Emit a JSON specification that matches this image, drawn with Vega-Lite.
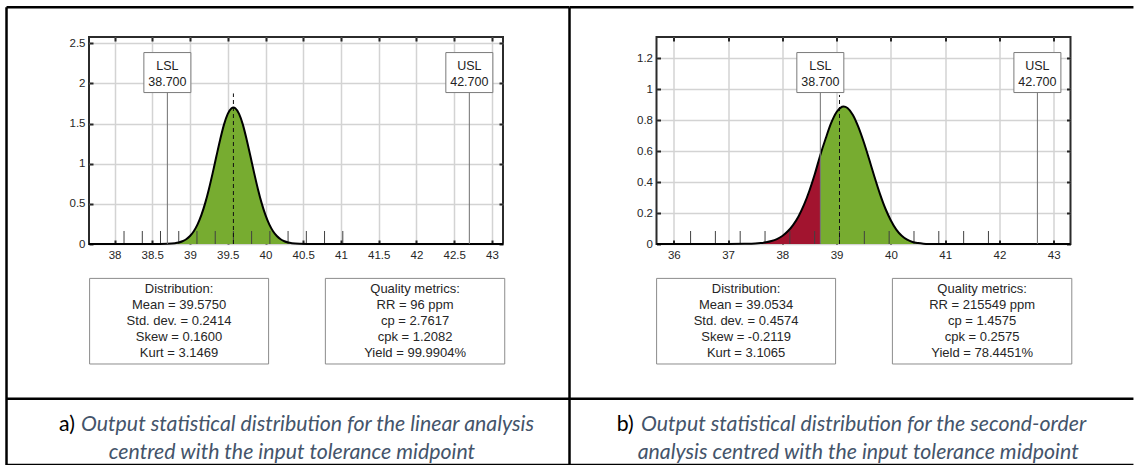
{
  "$schema": "https://vega.github.io/schema/vega-lite/v6.json",
  "padding": {"left": 4, "top": 4, "right": 0, "bottom": 0},
  "background": "white",
  "bounds": "flush",
  "spacing": 153.5,
  "config": {
    "view": {"stroke": "#2b2b2b", "strokeWidth": 2},
    "font": "Liberation Sans",
    "axis": {"domain": false, "tickSize": -4, "tickWidth": 2, "tickColor": "#262626", "gridColor": "#d3d3d3", "gridWidth": 1.5, "labelFont": "Liberation Sans", "labelFontSize": 11.5, "labelColor": "#262626", "labelFlush": false, "labelOverlap": false},
    "axisBottom": {"labelPadding": 9},
    "axisLeft": {"labelPadding": 8}
  },
  "datasets": {
    "curveA": [
      {"x": 37.662, "y": 0, "zone": "out"}, {"x": 38.0, "y": 0, "zone": "out"}, {"x": 38.3, "y": 0.00002, "zone": "out"}, {"x": 38.5, "y": 0.0001, "zone": "out"}, {"x": 38.6, "y": 0.0005, "zone": "out"}, {"x": 38.7, "y": 0.0024, "zone": "out"},
      {"x": 38.7, "y": 0.0024, "zone": "in"}, {"x": 38.8, "y": 0.0098, "zone": "in"}, {"x": 38.85, "y": 0.0186, "zone": "in"}, {"x": 38.9, "y": 0.0339, "zone": "in"}, {"x": 38.95, "y": 0.0592, "zone": "in"}, {"x": 39.0, "y": 0.0991, "zone": "in"}, {"x": 39.05, "y": 0.1587, "zone": "in"}, {"x": 39.1, "y": 0.2438, "zone": "in"}, {"x": 39.15, "y": 0.3586, "zone": "in"}, {"x": 39.2, "y": 0.506, "zone": "in"}, {"x": 39.25, "y": 0.683, "zone": "in"}, {"x": 39.3, "y": 0.883, "zone": "in"}, {"x": 39.35, "y": 1.095, "zone": "in"}, {"x": 39.4, "y": 1.302, "zone": "in"}, {"x": 39.45, "y": 1.487, "zone": "in"}, {"x": 39.5, "y": 1.62, "zone": "in"}, {"x": 39.55, "y": 1.691, "zone": "in"}, {"x": 39.575, "y": 1.7, "zone": "in"}, {"x": 39.6, "y": 1.691, "zone": "in"}, {"x": 39.65, "y": 1.62, "zone": "in"}, {"x": 39.7, "y": 1.487, "zone": "in"}, {"x": 39.75, "y": 1.302, "zone": "in"}, {"x": 39.8, "y": 1.095, "zone": "in"}, {"x": 39.85, "y": 0.883, "zone": "in"}, {"x": 39.9, "y": 0.683, "zone": "in"}, {"x": 39.95, "y": 0.506, "zone": "in"}, {"x": 40.0, "y": 0.3586, "zone": "in"}, {"x": 40.05, "y": 0.2438, "zone": "in"}, {"x": 40.1, "y": 0.1587, "zone": "in"}, {"x": 40.15, "y": 0.0991, "zone": "in"}, {"x": 40.2, "y": 0.0592, "zone": "in"}, {"x": 40.25, "y": 0.0339, "zone": "in"}, {"x": 40.3, "y": 0.0186, "zone": "in"}, {"x": 40.35, "y": 0.0098, "zone": "in"}, {"x": 40.45, "y": 0.0024, "zone": "in"}, {"x": 40.55, "y": 0.0005, "zone": "in"}, {"x": 40.7, "y": 0, "zone": "in"}, {"x": 43.146, "y": 0, "zone": "in"}
    ],
    "curveB": [
      {"x": 35.681, "y": 0, "zone": "out"}, {"x": 37.0, "y": 0, "zone": "out"}, {"x": 37.3, "y": 0.001, "zone": "out"}, {"x": 37.4, "y": 0.002, "zone": "out"}, {"x": 37.5, "y": 0.003, "zone": "out"}, {"x": 37.6, "y": 0.006, "zone": "out"}, {"x": 37.7, "y": 0.011, "zone": "out"}, {"x": 37.8, "y": 0.019, "zone": "out"}, {"x": 37.9, "y": 0.032, "zone": "out"}, {"x": 38.0, "y": 0.052, "zone": "out"}, {"x": 38.1, "y": 0.082, "zone": "out"}, {"x": 38.2, "y": 0.124, "zone": "out"}, {"x": 38.3, "y": 0.18, "zone": "out"}, {"x": 38.4, "y": 0.254, "zone": "out"}, {"x": 38.5, "y": 0.346, "zone": "out"}, {"x": 38.6, "y": 0.454, "zone": "out"}, {"x": 38.7, "y": 0.576, "zone": "out"},
      {"x": 38.7, "y": 0.576, "zone": "in"}, {"x": 38.8, "y": 0.684, "zone": "in"}, {"x": 38.9, "y": 0.783, "zone": "in"}, {"x": 39.0, "y": 0.854, "zone": "in"}, {"x": 39.1, "y": 0.888, "zone": "in"}, {"x": 39.13, "y": 0.89, "zone": "in"}, {"x": 39.2, "y": 0.88, "zone": "in"}, {"x": 39.3, "y": 0.835, "zone": "in"}, {"x": 39.4, "y": 0.758, "zone": "in"}, {"x": 39.5, "y": 0.66, "zone": "in"}, {"x": 39.6, "y": 0.548, "zone": "in"}, {"x": 39.7, "y": 0.432, "zone": "in"}, {"x": 39.8, "y": 0.323, "zone": "in"}, {"x": 39.9, "y": 0.228, "zone": "in"}, {"x": 40.0, "y": 0.152, "zone": "in"}, {"x": 40.1, "y": 0.093, "zone": "in"}, {"x": 40.2, "y": 0.053, "zone": "in"}, {"x": 40.3, "y": 0.028, "zone": "in"}, {"x": 40.4, "y": 0.013, "zone": "in"}, {"x": 40.5, "y": 0.006, "zone": "in"}, {"x": 40.6, "y": 0.002, "zone": "in"}, {"x": 40.7, "y": 0.0005, "zone": "in"}, {"x": 40.9, "y": 0, "zone": "in"}, {"x": 43.31, "y": 0, "zone": "in"}
    ],
    "rugA": [{"x": 38.126}, {"x": 38.368}, {"x": 38.609}, {"x": 38.851}, {"x": 39.092}, {"x": 39.334}, {"x": 39.575}, {"x": 39.816}, {"x": 40.058}, {"x": 40.299}, {"x": 40.541}, {"x": 40.782}, {"x": 41.024}],
    "rugB": [{"x": 36.309}, {"x": 36.766}, {"x": 37.223}, {"x": 37.681}, {"x": 38.138}, {"x": 38.596}, {"x": 39.053}, {"x": 39.511}, {"x": 39.968}, {"x": 40.426}, {"x": 40.883}, {"x": 41.341}, {"x": 41.798}],
    "meanA": [{"mean": 39.575}],
    "meanB": [{"mean": 39.0534}],
    "limits": [{"name": "LSL", "value": 38.7, "label": "LSL\n38.700"}, {"name": "USL", "value": 42.7, "label": "USL\n42.700"}],
    "statsA": [
      {"box": "dist", "text": "Distribution:\nMean = 39.5750\nStd. dev. = 0.2414\nSkew = 0.1600\nKurt = 3.1469"},
      {"box": "qual", "text": "Quality metrics:\nRR = 96 ppm\ncp = 2.7617\ncpk = 1.2082\nYield = 99.9904%"}
    ],
    "statsB": [
      {"box": "dist", "text": "Distribution:\nMean = 39.0534\nStd. dev. = 0.4574\nSkew = -0.2119\nKurt = 3.1065"},
      {"box": "qual", "text": "Quality metrics:\nRR = 215549 ppm\ncp = 1.4575\ncpk = 0.2575\nYield = 78.4451%"}
    ],
    "captionA": [{"tag": "a)", "line1": "Output statistical distribution for the linear analysis", "line2": "centred with the input tolerance midpoint"}],
    "captionB": [{"tag": "b)", "line1": "Output statistical distribution for the second-order", "line2": "analysis centred with the input tolerance midpoint"}]
  },
  "hconcat": [
    {
      "width": 414, "height": 207,
      "resolve": {"axis": {"x": "independent", "y": "independent"}},
      "layer": [
        {"data": {"name": "curveA"}, "transform": [{"filter": "datum.zone === 'out'"}],
         "mark": {"type": "area", "color": "#A2142F", "interpolate": "monotone"},
         "encoding": {
           "x": {"field": "x", "type": "quantitative", "scale": {"domain": [37.662, 43.146], "nice": false, "zero": false},
                 "axis": {"orient": "bottom", "values": [38, 38.5, 39, 39.5, 40, 40.5, 41, 41.5, 42, 42.5, 43], "format": "~g", "title": null, "grid": true}},
           "y": {"field": "y", "type": "quantitative", "scale": {"domain": [0, 2.578], "nice": false, "zero": false},
                 "axis": {"orient": "left", "values": [0, 0.5, 1, 1.5, 2, 2.5], "format": "~g", "title": null, "grid": true}}
         }},
        {"data": {"name": "curveA"}, "transform": [{"filter": "datum.zone === 'in'"}],
         "mark": {"type": "area", "color": "#77AC30", "interpolate": "monotone"},
         "encoding": {"x": {"field": "x", "type": "quantitative", "axis": null}, "y": {"field": "y", "type": "quantitative", "axis": null}}},
        {"data": {"name": "rugA"},
         "mark": {"type": "rule", "color": "#404040", "strokeWidth": 1},
         "encoding": {
           "x": {"field": "x", "type": "quantitative", "axis": {"orient": "top", "values": [38, 38.5, 39, 39.5, 40, 40.5, 41, 41.5, 42, 42.5, 43], "labels": false, "grid": false, "title": null}},
           "y": {"datum": 0, "type": "quantitative", "axis": {"orient": "right", "values": [0, 0.5, 1, 1.5, 2, 2.5], "labels": false, "grid": false, "title": null}},
           "y2": {"datum": 0.162}
         }},
        {"data": {"name": "meanA"},
         "mark": {"type": "rule", "color": "#111111", "strokeWidth": 1, "strokeDash": [4, 3]},
         "encoding": {"x": {"field": "mean", "type": "quantitative", "axis": null}, "y": {"datum": 0, "type": "quantitative", "axis": null}, "y2": {"datum": 1.875}}},
        {"data": {"name": "curveA"},
         "mark": {"type": "line", "color": "#000000", "strokeWidth": 2, "interpolate": "monotone"},
         "encoding": {"x": {"field": "x", "type": "quantitative", "axis": null}, "y": {"field": "y", "type": "quantitative", "axis": null}}},
        {"data": {"name": "limits"},
         "mark": {"type": "rule", "color": "#707070", "strokeWidth": 1},
         "encoding": {"x": {"field": "value", "type": "quantitative", "axis": null}, "y": {"datum": 0, "type": "quantitative", "axis": null}, "y2": {"datum": 2.135}}},
        {"data": {"name": "limits"},
         "mark": {"type": "point", "shape": "M-1,-0.851H1V0.851H-1Z", "size": 2209, "filled": true, "fill": "white", "stroke": "#7a7a7a", "strokeWidth": 1, "opacity": 1, "fillOpacity": 1, "strokeOpacity": 1},
         "encoding": {"x": {"field": "value", "type": "quantitative", "axis": null}, "y": {"datum": 2.135, "type": "quantitative", "axis": null}}},
        {"data": {"name": "limits"},
         "mark": {"type": "text", "align": "center", "baseline": "top", "lineBreak": "\n", "lineHeight": 16, "font": "Liberation Sans", "fontSize": 12.5, "color": "#222222"},
         "encoding": {"x": {"field": "value", "type": "quantitative", "axis": null}, "y": {"datum": 2.2976, "type": "quantitative", "axis": null}, "text": {"field": "label"}}},
        {"data": {"name": "statsA"}, "transform": [{"filter": "datum.box === 'dist'"}],
         "mark": {"type": "rect", "fill": "white", "stroke": "#8c8c8c", "strokeWidth": 1},
         "encoding": {"x": {"datum": 37.670, "type": "quantitative", "axis": null}, "x2": {"datum": 40.041}, "y": {"datum": -0.4284, "type": "quantitative", "axis": null}, "y2": {"datum": -1.4944}}},
        {"data": {"name": "statsA"}, "transform": [{"filter": "datum.box === 'qual'"}],
         "mark": {"type": "rect", "fill": "white", "stroke": "#8c8c8c", "strokeWidth": 1},
         "encoding": {"x": {"datum": 40.793, "type": "quantitative", "axis": null}, "x2": {"datum": 43.169}, "y": {"datum": -0.4284, "type": "quantitative", "axis": null}, "y2": {"datum": -1.4944}}},
        {"data": {"name": "statsA"}, "transform": [{"filter": "datum.box === 'dist'"}],
         "mark": {"type": "text", "align": "center", "baseline": "top", "lineBreak": "\n", "lineHeight": 15.8, "font": "Liberation Sans", "fontSize": 13, "color": "#262626"},
         "encoding": {"x": {"datum": 38.855, "type": "quantitative", "axis": null}, "y": {"datum": -0.4919, "type": "quantitative", "axis": null}, "text": {"field": "text"}}},
        {"data": {"name": "statsA"}, "transform": [{"filter": "datum.box === 'qual'"}],
         "mark": {"type": "text", "align": "center", "baseline": "top", "lineBreak": "\n", "lineHeight": 15.8, "font": "Liberation Sans", "fontSize": 13, "color": "#262626"},
         "encoding": {"x": {"datum": 41.981, "type": "quantitative", "axis": null}, "y": {"datum": -0.4919, "type": "quantitative", "axis": null}, "text": {"field": "text"}}},
        {"data": {"name": "captionA"},
         "mark": {"type": "text", "align": "left", "baseline": "middle", "font": "Lato", "fontSize": 21.3, "color": "#000000"},
         "encoding": {"x": {"datum": 37.2646, "type": "quantitative", "axis": null}, "y": {"datum": -2.2565, "type": "quantitative", "axis": null}, "text": {"field": "tag"}}},
        {"data": {"name": "captionA"},
         "mark": {"type": "text", "align": "left", "baseline": "middle", "font": "Lato", "fontStyle": "italic", "fontSize": 21.3, "color": "#44546A"},
         "encoding": {"x": {"datum": 37.556, "type": "quantitative", "axis": null}, "y": {"datum": -2.2565, "type": "quantitative", "axis": null}, "text": {"field": "line1"}}},
        {"data": {"name": "captionA"},
         "mark": {"type": "text", "align": "center", "baseline": "middle", "font": "Lato", "fontStyle": "italic", "fontSize": 21.3, "color": "#44546A"},
         "encoding": {"x": {"datum": 40.3507, "type": "quantitative", "axis": null}, "y": {"datum": -2.6052, "type": "quantitative", "axis": null}, "text": {"field": "line2"}}},
        {"data": {"name": "captionA"},
         "mark": {"type": "rule", "color": "#000000", "strokeWidth": 2.5},
         "encoding": {"x": {"datum": 36.5693, "type": "quantitative", "axis": null}, "x2": {"datum": 44.026}, "y": {"datum": 2.9489, "type": "quantitative", "axis": null}}},
        {"data": {"name": "captionA"},
         "mark": {"type": "rule", "color": "#000000", "strokeWidth": 2.5},
         "encoding": {"x": {"datum": 36.5693, "type": "quantitative", "axis": null}, "y": {"datum": 2.9489, "type": "quantitative", "axis": null}, "y2": {"datum": -2.7671}}},
        {"data": {"name": "captionA"},
         "mark": {"type": "rule", "color": "#000000", "strokeWidth": 2.5},
         "encoding": {"x": {"datum": 36.5693, "type": "quantitative", "axis": null}, "x2": {"datum": 44.026}, "y": {"datum": -1.9265, "type": "quantitative", "axis": null}}},
        {"data": {"name": "captionA"},
         "mark": {"type": "rule", "color": "#000000", "strokeWidth": 2.5},
         "encoding": {"x": {"datum": 36.5693, "type": "quantitative", "axis": null}, "x2": {"datum": 44.026}, "y": {"datum": -2.7522, "type": "quantitative", "axis": null}}}
      ]
    },
    {
      "width": 414, "height": 207,
      "resolve": {"axis": {"x": "independent", "y": "independent"}},
      "layer": [
        {"data": {"name": "curveB"}, "transform": [{"filter": "datum.zone === 'out'"}],
         "mark": {"type": "area", "color": "#A2142F", "interpolate": "monotone"},
         "encoding": {
           "x": {"field": "x", "type": "quantitative", "scale": {"domain": [35.681, 43.31], "nice": false, "zero": false},
                 "axis": {"orient": "bottom", "values": [36, 37, 38, 39, 40, 41, 42, 43], "format": "~g", "title": null, "grid": true}},
           "y": {"field": "y", "type": "quantitative", "scale": {"domain": [0, 1.339], "nice": false, "zero": false},
                 "axis": {"orient": "left", "values": [0, 0.2, 0.4, 0.6, 0.8, 1, 1.2], "format": "~g", "title": null, "grid": true}}
         }},
        {"data": {"name": "curveB"}, "transform": [{"filter": "datum.zone === 'in'"}],
         "mark": {"type": "area", "color": "#77AC30", "interpolate": "monotone"},
         "encoding": {"x": {"field": "x", "type": "quantitative", "axis": null}, "y": {"field": "y", "type": "quantitative", "axis": null}}},
        {"data": {"name": "rugB"},
         "mark": {"type": "rule", "color": "#404040", "strokeWidth": 1},
         "encoding": {
           "x": {"field": "x", "type": "quantitative", "axis": {"orient": "top", "values": [36, 37, 38, 39, 40, 41, 42, 43], "labels": false, "grid": false, "title": null}},
           "y": {"datum": 0, "type": "quantitative", "axis": {"orient": "right", "values": [0, 0.2, 0.4, 0.6, 0.8, 1, 1.2], "labels": false, "grid": false, "title": null}},
           "y2": {"datum": 0.084}
         }},
        {"data": {"name": "meanB"},
         "mark": {"type": "rule", "color": "#111111", "strokeWidth": 1, "strokeDash": [4, 3]},
         "encoding": {"x": {"field": "mean", "type": "quantitative", "axis": null}, "y": {"datum": 0, "type": "quantitative", "axis": null}, "y2": {"datum": 0.964}}},
        {"data": {"name": "curveB"},
         "mark": {"type": "line", "color": "#000000", "strokeWidth": 2, "interpolate": "monotone"},
         "encoding": {"x": {"field": "x", "type": "quantitative", "axis": null}, "y": {"field": "y", "type": "quantitative", "axis": null}}},
        {"data": {"name": "limits"},
         "mark": {"type": "rule", "color": "#707070", "strokeWidth": 1},
         "encoding": {"x": {"field": "value", "type": "quantitative", "axis": null}, "y": {"datum": 0, "type": "quantitative", "axis": null}, "y2": {"datum": 1.109}}},
        {"data": {"name": "limits"},
         "mark": {"type": "point", "shape": "M-1,-0.851H1V0.851H-1Z", "size": 2209, "filled": true, "fill": "white", "stroke": "#7a7a7a", "strokeWidth": 1, "opacity": 1, "fillOpacity": 1, "strokeOpacity": 1},
         "encoding": {"x": {"field": "value", "type": "quantitative", "axis": null}, "y": {"datum": 1.109, "type": "quantitative", "axis": null}}},
        {"data": {"name": "limits"},
         "mark": {"type": "text", "align": "center", "baseline": "top", "lineBreak": "\n", "lineHeight": 16, "font": "Liberation Sans", "fontSize": 12.5, "color": "#222222"},
         "encoding": {"x": {"field": "value", "type": "quantitative", "axis": null}, "y": {"datum": 1.1934, "type": "quantitative", "axis": null}, "text": {"field": "label"}}},
        {"data": {"name": "statsB"}, "transform": [{"filter": "datum.box === 'dist'"}],
         "mark": {"type": "rect", "fill": "white", "stroke": "#8c8c8c", "strokeWidth": 1},
         "encoding": {"x": {"datum": 35.683, "type": "quantitative", "axis": null}, "x2": {"datum": 38.981}, "y": {"datum": -0.2225, "type": "quantitative", "axis": null}, "y2": {"datum": -0.7762}}},
        {"data": {"name": "statsB"}, "transform": [{"filter": "datum.box === 'qual'"}],
         "mark": {"type": "rect", "fill": "white", "stroke": "#8c8c8c", "strokeWidth": 1},
         "encoding": {"x": {"datum": 40.028, "type": "quantitative", "axis": null}, "x2": {"datum": 43.334}, "y": {"datum": -0.2225, "type": "quantitative", "axis": null}, "y2": {"datum": -0.7762}}},
        {"data": {"name": "statsB"}, "transform": [{"filter": "datum.box === 'dist'"}],
         "mark": {"type": "text", "align": "center", "baseline": "top", "lineBreak": "\n", "lineHeight": 15.8, "font": "Liberation Sans", "fontSize": 13, "color": "#262626"},
         "encoding": {"x": {"datum": 37.332, "type": "quantitative", "axis": null}, "y": {"datum": -0.2555, "type": "quantitative", "axis": null}, "text": {"field": "text"}}},
        {"data": {"name": "statsB"}, "transform": [{"filter": "datum.box === 'qual'"}],
         "mark": {"type": "text", "align": "center", "baseline": "top", "lineBreak": "\n", "lineHeight": 15.8, "font": "Liberation Sans", "fontSize": 13, "color": "#262626"},
         "encoding": {"x": {"datum": 41.681, "type": "quantitative", "axis": null}, "y": {"datum": -0.2555, "type": "quantitative", "axis": null}, "text": {"field": "text"}}},
        {"data": {"name": "captionB"},
         "mark": {"type": "text", "align": "left", "baseline": "middle", "font": "Lato", "fontSize": 21.3, "color": "#000000"},
         "encoding": {"x": {"datum": 34.9495, "type": "quantitative", "axis": null}, "y": {"datum": -1.1721, "type": "quantitative", "axis": null}, "text": {"field": "tag"}}},
        {"data": {"name": "captionB"},
         "mark": {"type": "text", "align": "left", "baseline": "middle", "font": "Lato", "fontStyle": "italic", "fontSize": 21.3, "color": "#44546A"},
         "encoding": {"x": {"datum": 35.3954, "type": "quantitative", "axis": null}, "y": {"datum": -1.1721, "type": "quantitative", "axis": null}, "text": {"field": "line1"}}},
        {"data": {"name": "captionB"},
         "mark": {"type": "text", "align": "center", "baseline": "middle", "font": "Lato", "fontStyle": "italic", "fontSize": 21.3, "color": "#44546A"},
         "encoding": {"x": {"datum": 39.3976, "type": "quantitative", "axis": null}, "y": {"datum": -1.3532, "type": "quantitative", "axis": null}, "text": {"field": "line2"}}},
        {"data": {"name": "captionB"},
         "mark": {"type": "rule", "color": "#000000", "strokeWidth": 2.5},
         "encoding": {"x": {"datum": 34.0779, "type": "quantitative", "axis": null}, "x2": {"datum": 44.47}, "y": {"datum": 1.5317, "type": "quantitative", "axis": null}}},
        {"data": {"name": "captionB"},
         "mark": {"type": "rule", "color": "#000000", "strokeWidth": 2.5},
         "encoding": {"x": {"datum": 34.0779, "type": "quantitative", "axis": null}, "y": {"datum": 1.5317, "type": "quantitative", "axis": null}, "y2": {"datum": -1.4373}}},
        {"data": {"name": "captionB"},
         "mark": {"type": "rule", "color": "#000000", "strokeWidth": 2.5},
         "encoding": {"x": {"datum": 34.0779, "type": "quantitative", "axis": null}, "x2": {"datum": 44.47}, "y": {"datum": -1.0007, "type": "quantitative", "axis": null}}},
        {"data": {"name": "captionB"},
         "mark": {"type": "rule", "color": "#000000", "strokeWidth": 2.5},
         "encoding": {"x": {"datum": 34.0779, "type": "quantitative", "axis": null}, "x2": {"datum": 44.47}, "y": {"datum": -1.4295, "type": "quantitative", "axis": null}}}
      ]
    }
  ]
}
